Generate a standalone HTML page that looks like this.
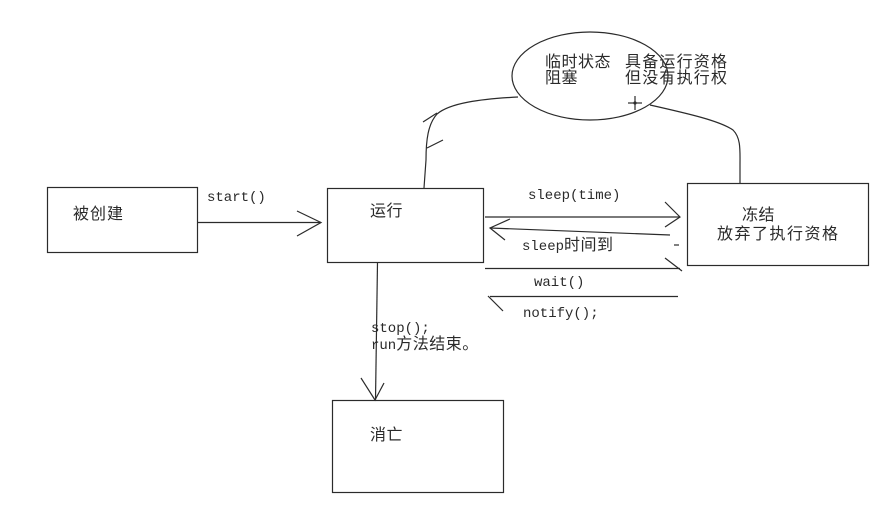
<!DOCTYPE html>
<html>
<head>
<meta charset="utf-8">
<style>
html,body{margin:0;padding:0;background:#fff;}
svg{display:block;}
.cj{font-family:"Liberation Sans","Noto Sans CJK SC","WenQuanYi Zen Hei",sans-serif;font-size:16px;fill:#2a2a2a;}
.mo{font-family:"Liberation Mono","Noto Sans CJK SC",monospace;font-size:14px;fill:#2a2a2a;}
.mo tspan.c{font-family:"Noto Sans CJK SC","WenQuanYi Zen Hei",sans-serif;font-size:16px;letter-spacing:0.5px;}
</style>
</head>
<body>
<svg width="895" height="507" viewBox="0 0 895 507" xmlns="http://www.w3.org/2000/svg">
<g fill="none" stroke="#2b2b2b" stroke-width="1.2">
  <rect x="47.5" y="187.5" width="150" height="65"/>
  <rect x="327.5" y="188.5" width="156" height="74"/>
  <rect x="687.5" y="183.5" width="181" height="82"/>
  <rect x="332.5" y="400.5" width="171" height="92"/>
  <ellipse cx="590" cy="76" rx="78" ry="44"/>
  <line x1="197" y1="222.5" x2="321" y2="222.5"/>
  <polyline points="297,211 321,222.5 297,236"/>
  <line x1="377.5" y1="262" x2="375.5" y2="400"/>
  <polyline points="361,378 375,400 384,383"/>
  <line x1="485" y1="217" x2="680" y2="217"/>
  <polyline points="665,202 680,217 665,227"/>
  <line x1="490" y1="228" x2="670" y2="235"/>
  <polyline points="510,219 490,228 505,240"/>
  <line x1="674" y1="245" x2="679" y2="245"/>
  <line x1="485" y1="268.5" x2="680" y2="268.5"/>
  <line x1="665" y1="258" x2="682" y2="271"/>
  <line x1="490" y1="296.5" x2="678" y2="296.5"/>
  <line x1="488" y1="296" x2="503" y2="311"/>
  <path d="M518,97 C480,99 450,103 437,114 C428,124 426,140 426,160 L424,188"/>
  <line x1="423" y1="122" x2="437" y2="113"/>
  <line x1="427" y1="148" x2="443" y2="140"/>
  <path d="M650,105 C690,114 720,121 733,130 C741,138 740,150 740,165 L740,183"/>
  <line x1="628" y1="103" x2="642" y2="103"/>
  <line x1="635" y1="96" x2="635" y2="110"/>
</g>
<circle cx="635" cy="103" r="1.6" fill="#2b2b2b"/>

<text class="cj" x="73" y="219" style="letter-spacing:1px">被创建</text>
<text class="mo" x="207" y="201">start()</text>
<text class="cj" x="370" y="216" style="letter-spacing:0.5px">运行</text>
<text class="cj" x="742" y="220" style="letter-spacing:0.5px">冻结</text>
<text class="cj" x="717" y="239" style="letter-spacing:1.5px">放弃了执行资格</text>
<text class="cj" x="370" y="440" style="letter-spacing:0.5px">消亡</text>
<text class="cj" x="545" y="67" style="letter-spacing:0.5px">临时状态</text>
<text class="cj" x="545" y="83" style="letter-spacing:0.5px">阻塞</text>
<text class="cj" x="625" y="67" style="letter-spacing:1.2px">具备运行资格</text>
<text class="cj" x="625" y="83" style="letter-spacing:1.2px">但没有执行权</text>
<text class="mo" x="528" y="199">sleep(time)</text>
<text class="mo" x="522" y="250">sleep<tspan class="c">时间到</tspan></text>
<text class="mo" x="534" y="286">wait()</text>
<text class="mo" x="523" y="317">notify();</text>
<text class="mo" x="371" y="332">stop();</text>
<text class="mo" x="371" y="349">run<tspan class="c">方法结束。</tspan></text>
</svg>
</body>
</html>
